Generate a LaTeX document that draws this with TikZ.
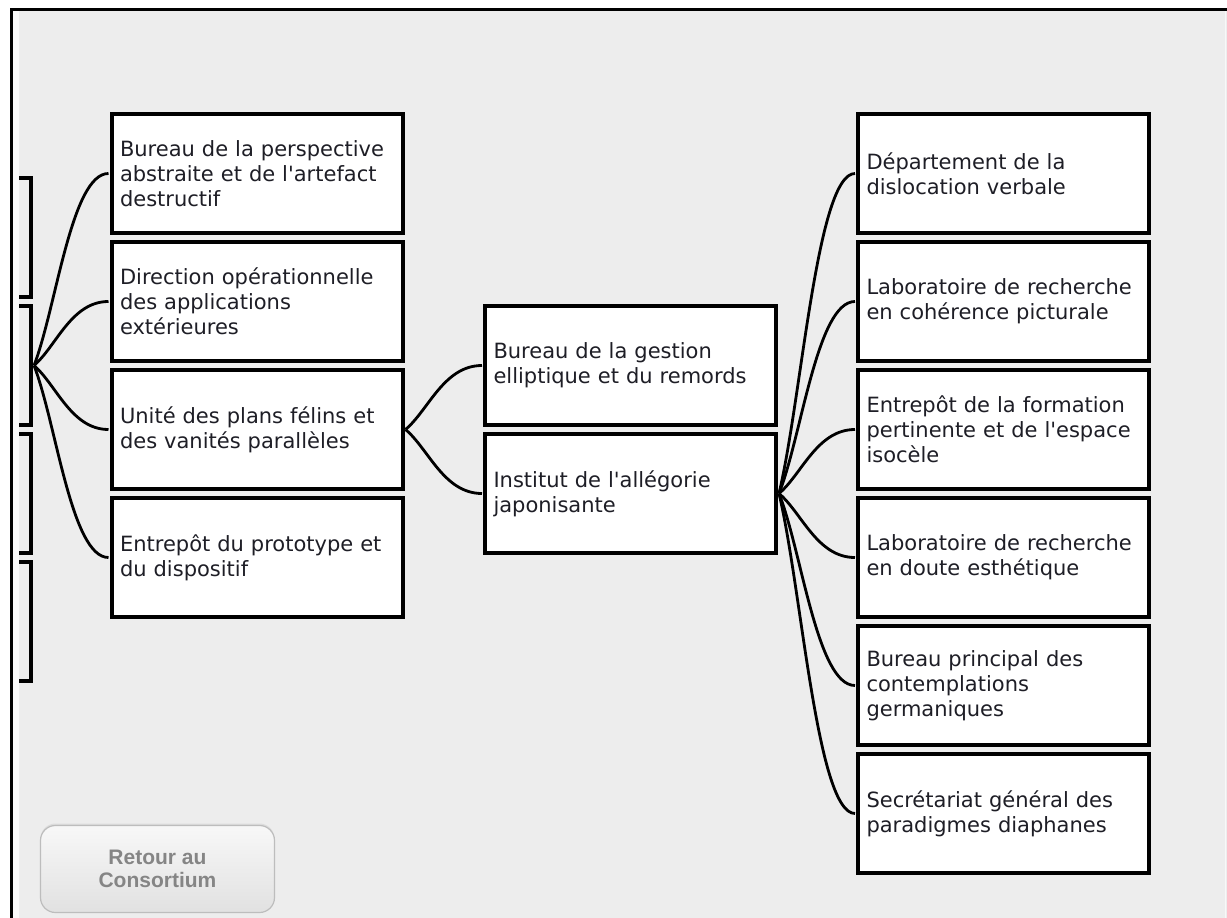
\documentclass[tikz,border=0pt]{standalone}
\usepackage{fontspec}
\newfontfamily\boxfont{DejaVu Sans}
\newfontfamily\btnfont{Liberation Sans}
\usetikzlibrary{calc,shadows}
\definecolor{bgc}{HTML}{EDEDED}
\definecolor{txt}{HTML}{1E1E26}
\definecolor{btntxt}{HTML}{858585}
\definecolor{btnline}{HTML}{BDBDBD}
\tikzset{
  unit/.style={draw=black, line width=4pt, fill=white, minimum width=291pt, minimum height=119pt,
    text width=274pt, inner xsep=8.5pt, inner ysep=0pt, align=left, text=txt,
    font=\boxfont\fontsize{21}{25}\selectfont},
  ghost/.style={draw=black, line width=4pt, minimum width=291pt, minimum height=119pt},
  conn/.style={draw=black, line width=2.8pt},
  btn/.style={draw=btnline, line width=1.2pt, rounded corners=15pt, top color=white!60!bgc, bottom color=bgc!95!black,
    minimum width=234pt, minimum height=87pt, align=center, text=btntxt,
    font=\btnfont\bfseries\fontsize{21}{23.5}\selectfont}
}
\newcommand\lnk[2]{\draw[conn] let \p1=([xshift=1pt]#1.east), \p2=([xshift=-1pt]#2.west) in
  (\p1) .. controls ({\x1+0.3*(\x2-\x1)},{\y1+0.3*(\y2-\y1)}) and ({0.5*(\x1+\x2)},\y2) .. (\p2);}
\begin{document}
\begin{tikzpicture}[x=1pt,y=-1pt]
\useasboundingbox (0,0) rectangle (1227,918);
\fill[white] (0,0) rectangle (1227,918);
\fill[bgc] (11,9) rectangle (1227,918);
\fill[white!70!bgc] (12.5,11) rectangle (18.5,918);
\draw[white!60!bgc, line width=1pt] (1225,11) -- (1225,918);
\draw[black, line width=2.8pt] (11.3,918) -- (11.3,9.5) -- (1227,9.5);

% partial boxes on the far left (clipped)
\begin{scope}
\clip (19,0) rectangle (200,918);
\node[ghost] (p1) at (-114.5,237.5) {};
\node[ghost] (p2) at (-114.5,365.5) {};
\node[ghost] (p3) at (-114.5,493.5) {};
\node[ghost] (p4) at (-114.5,621.5) {};
\end{scope}

% left column
\node[unit] (l1) at (257,173.5) {Bureau de la perspective\\abstraite et de l'artefact\\destructif};
\node[unit] (l2) at (257,301.5) {Direction opérationnelle\\des applications\\extérieures};
\node[unit] (l3) at (257,429.5) {Unité des plans félins et\\des vanités parallèles};
\node[unit] (l4) at (257,557.5) {Entrepôt du prototype et\\du dispositif};

% middle column
\node[unit] (m1) at (630.5,365.5) {Bureau de la gestion\\elliptique et du remords};
\node[unit] (m2) at (630.5,493.5) {Institut de l'allégorie\\japonisante};

% right column
\node[unit] (r1) at (1003.5,173.5) {Département de la\\dislocation verbale};
\node[unit] (r2) at (1003.5,301.5) {Laboratoire de recherche\\en cohérence picturale};
\node[unit] (r3) at (1003.5,429.5) {Entrepôt de la formation\\pertinente et de l'espace\\isocèle};
\node[unit] (r4) at (1003.5,557.5) {Laboratoire de recherche\\en doute esthétique};
\node[unit] (r5) at (1003.5,685.5) {Bureau principal des\\contemplations\\germaniques};
\node[unit] (r6) at (1003.5,813.5) {Secrétariat général des\\paradigmes diaphanes};

% connectors
\lnk{p2}{l1}\lnk{p2}{l2}\lnk{p2}{l3}\lnk{p2}{l4}
\lnk{l3}{m1}\lnk{l3}{m2}
\lnk{m2}{r1}\lnk{m2}{r2}\lnk{m2}{r3}\lnk{m2}{r4}\lnk{m2}{r5}\lnk{m2}{r6}

% button
\node[btn, drop shadow={shadow xshift=0pt, shadow yshift=2pt, opacity=0.15}] (back) at (157.5,869) {Retour au\\Consortium};
\end{tikzpicture}
\end{document}
